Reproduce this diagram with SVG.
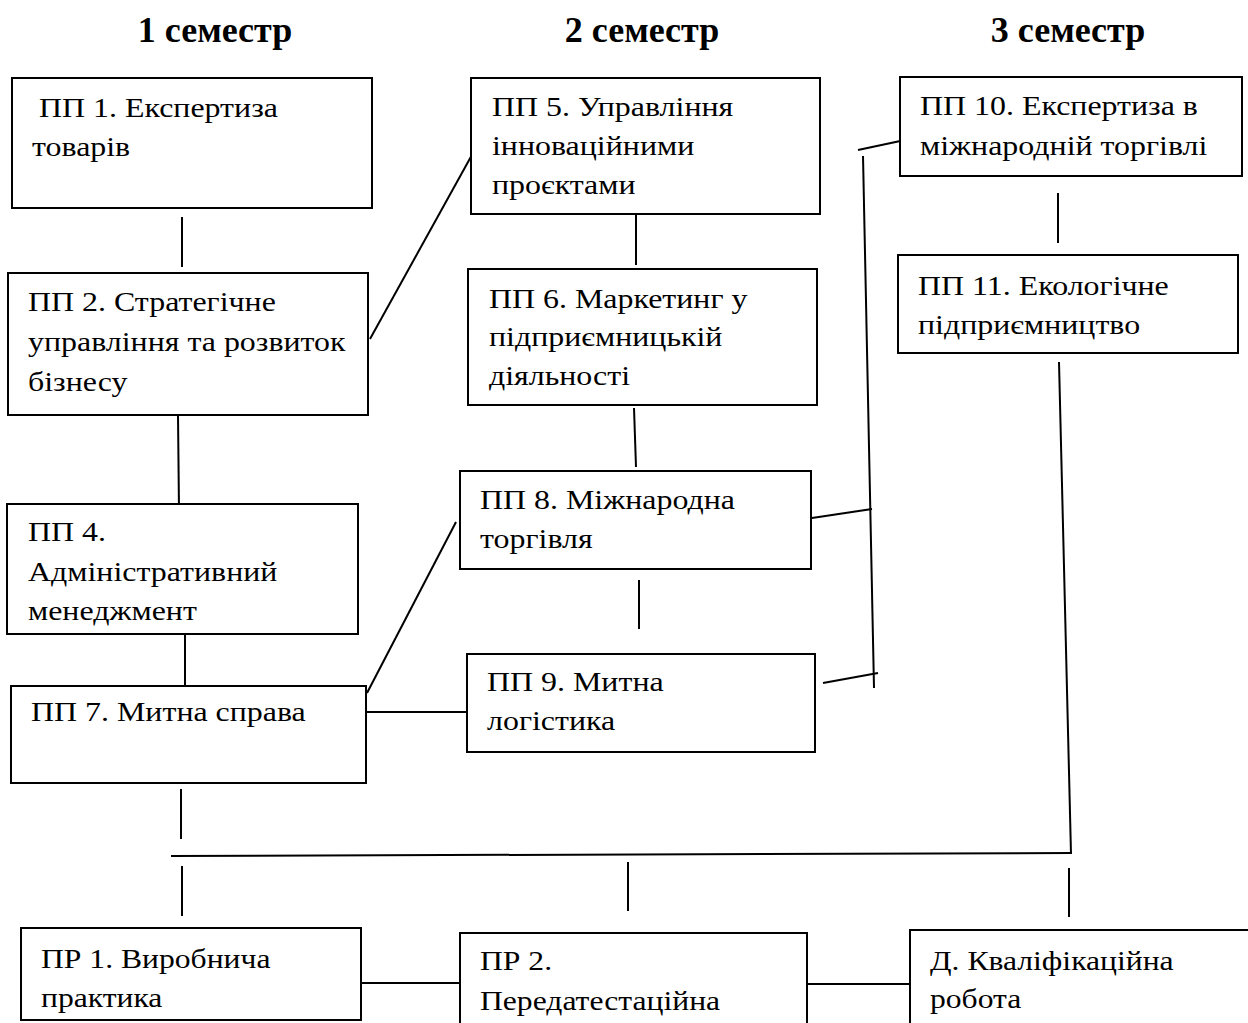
<svg xmlns="http://www.w3.org/2000/svg" width="1248" height="1023" viewBox="0 0 1248 1023">
<style>
.box{fill:#fff;stroke:#000;stroke-width:2}
.t{font-family:"Liberation Serif","Times New Roman",serif;font-size:28px;fill:#000}
.h{font-family:"Liberation Serif","Times New Roman",serif;font-size:36px;font-weight:bold;fill:#000;text-anchor:middle}
.c line{stroke:#000;stroke-width:2}
</style>
<rect width="1248" height="1023" fill="#fff"/>
<g id="titles">
<text class="h" x="215" y="42">1 семестр</text>
<text class="h" x="642" y="42">2 семестр</text>
<text class="h" x="1068" y="42">3 семестр</text>
</g>
<g class="c" id="connectors">
<line x1="182" y1="217" x2="182" y2="267"/>
<line x1="370" y1="339" x2="473" y2="153"/>
<line x1="636" y1="214" x2="636" y2="265"/>
<line x1="634" y1="408" x2="636" y2="467"/>
<line x1="863" y1="156" x2="874" y2="688"/>
<line x1="858" y1="150" x2="905" y2="140"/>
<line x1="1058" y1="193" x2="1058" y2="243"/>
<line x1="1059" y1="362" x2="1071" y2="854"/>
<line x1="178" y1="415" x2="179" y2="510"/>
<line x1="185" y1="634" x2="185" y2="685"/>
<line x1="362" y1="712" x2="467" y2="712"/>
<line x1="367" y1="693" x2="456" y2="522"/>
<line x1="812" y1="518" x2="872" y2="509"/>
<line x1="639" y1="580" x2="639" y2="629"/>
<line x1="823" y1="683" x2="878" y2="673"/>
<line x1="181" y1="789" x2="181" y2="839"/>
<line x1="171" y1="856" x2="1072" y2="853"/>
<line x1="182" y1="866" x2="182" y2="916"/>
<line x1="628" y1="862" x2="628" y2="911"/>
<line x1="1069" y1="868" x2="1069" y2="917"/>
<line x1="354" y1="983" x2="460" y2="983"/>
<line x1="807" y1="984" x2="910" y2="984"/>
</g>
<g id="pp1">
<rect class="box" x="12" y="78" width="360" height="130"/>
<text class="t" transform="translate(39,117) scale(1.14,1)">ПП 1. Експертиза</text>
<text class="t" transform="translate(32,156) scale(1.14,1)">товарів</text>
</g>
<g id="pp2">
<rect class="box" x="8" y="273" width="360" height="142"/>
<text class="t" transform="translate(28,311) scale(1.14,1)">ПП 2. Стратегічне</text>
<text class="t" transform="translate(28,351) scale(1.14,1)">управління та розвиток</text>
<text class="t" transform="translate(28,391) scale(1.14,1)">бізнесу</text>
</g>
<g id="pp4">
<rect class="box" x="7" y="504" width="351" height="130"/>
<text class="t" transform="translate(28,541) scale(1.14,1)">ПП 4.</text>
<text class="t" transform="translate(28,581) scale(1.14,1)">Адміністративний</text>
<text class="t" transform="translate(28,620) scale(1.14,1)">менеджмент</text>
</g>
<g id="pp7">
<rect class="box" x="11" y="686" width="355" height="97"/>
<text class="t" transform="translate(31,721) scale(1.14,1)">ПП 7. Митна справа</text>
</g>
<g id="pp5">
<rect class="box" x="471" y="78" width="349" height="136"/>
<text class="t" transform="translate(492,116) scale(1.14,1)">ПП 5. Управління</text>
<text class="t" transform="translate(492,155) scale(1.14,1)">інноваційними</text>
<text class="t" transform="translate(492,194) scale(1.14,1)">проєктами</text>
</g>
<g id="pp6">
<rect class="box" x="468" y="269" width="349" height="136"/>
<text class="t" transform="translate(489,308) scale(1.14,1)">ПП 6. Маркетинг у</text>
<text class="t" transform="translate(489,346) scale(1.14,1)">підприємницькій</text>
<text class="t" transform="translate(489,385) scale(1.14,1)">діяльності</text>
</g>
<g id="pp8">
<rect class="box" x="460" y="471" width="351" height="98"/>
<text class="t" transform="translate(480,509) scale(1.14,1)">ПП 8. Міжнародна</text>
<text class="t" transform="translate(480,548) scale(1.14,1)">торгівля</text>
</g>
<g id="pp9">
<rect class="box" x="467" y="654" width="348" height="98"/>
<text class="t" transform="translate(487,691) scale(1.14,1)">ПП 9. Митна</text>
<text class="t" transform="translate(487,730) scale(1.14,1)">логістика</text>
</g>
<g id="pp10">
<rect class="box" x="900" y="77" width="342" height="99"/>
<text class="t" transform="translate(920,115) scale(1.14,1)">ПП 10. Експертиза в</text>
<text class="t" transform="translate(920,155) scale(1.14,1)">міжнародній торгівлі</text>
</g>
<g id="pp11">
<rect class="box" x="898" y="255" width="340" height="98"/>
<text class="t" transform="translate(918,295) scale(1.14,1)">ПП 11. Екологічне</text>
<text class="t" transform="translate(918,334) scale(1.14,1)">підприємництво</text>
</g>
<g id="pr1">
<rect class="box" x="21" y="928" width="340" height="92"/>
<text class="t" transform="translate(41,968) scale(1.13,1)">ПР 1. Виробнича</text>
<text class="t" transform="translate(41,1007) scale(1.13,1)">практика</text>
</g>
<g id="pr2">
<rect class="box" x="460" y="933" width="347" height="100"/>
<text class="t" transform="translate(480,970) scale(1.13,1)">ПР 2.</text>
<text class="t" transform="translate(480,1010) scale(1.13,1)">Передатестаційна</text>
</g>
<g id="d">
<rect class="box" x="910" y="930" width="350" height="100"/>
<text class="t" transform="translate(930,970) scale(1.13,1)">Д. Кваліфікаційна</text>
<text class="t" transform="translate(930,1008) scale(1.13,1)">робота</text>
</g>
</svg>
